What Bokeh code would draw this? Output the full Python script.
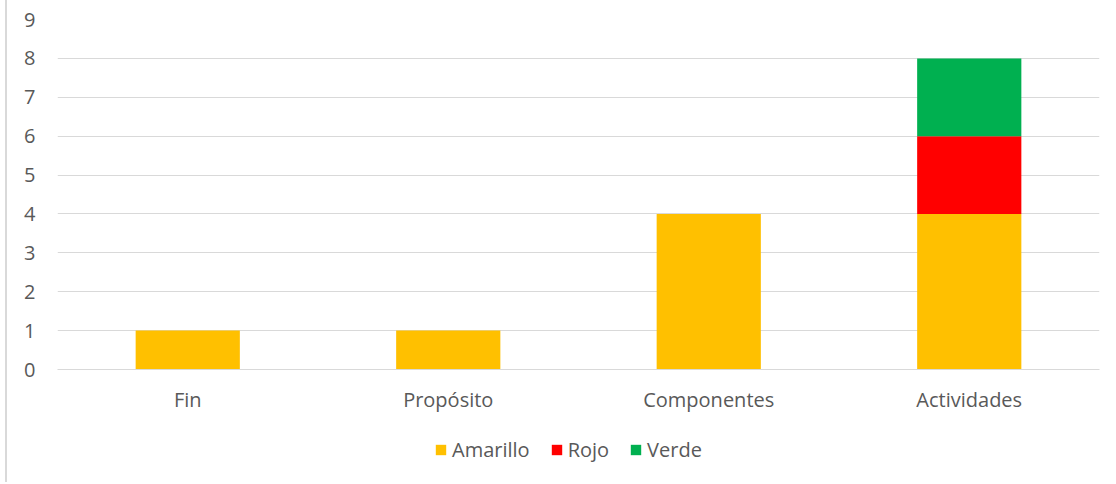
from bokeh.plotting import figure
from bokeh.layouts import column
from bokeh.models import FactorRange, Range1d, FixedTicker, Legend, LegendItem, ColumnDataSource
from bokeh.embed import file_html
from bokeh.resources import INLINE

categories = ["Fin", "Propósito", "Componentes", "Actividades"]
series = ["Amarillo", "Rojo", "Verde"]
amarillo = [1, 1, 4, 4]
rojo = [0, 0, 0, 2]
verde = [0, 0, 0, 2]
colors = ["#FFC000", "#FF0000", "#00B050"]
y_ticks = [0, 1, 2, 3, 4, 5, 6, 7, 8, 9]

FONT = "Open Sans"
TXT = "#595959"
FS = "20px"

source = ColumnDataSource(dict(cat=categories, Amarillo=amarillo, Rojo=rojo, Verde=verde))

p = figure(x_range=FactorRange(*categories), y_range=Range1d(0, 9),
           width=1109, height=420, output_backend="svg", toolbar_location=None,
           min_border_left=50, min_border_right=17, min_border_top=19, min_border_bottom=51)

renderers = p.vbar_stack(series, x="cat", width=0.4, source=source, color=colors, line_color=None)

p.outline_line_color = None
p.xgrid.grid_line_color = None
p.ygrid.grid_line_color = "#d9d9d9"
p.ygrid.grid_line_width = 1
p.yaxis.ticker = FixedTicker(ticks=y_ticks)
p.yaxis.axis_line_color = None
p.yaxis.major_tick_line_color = None
p.yaxis.minor_tick_line_color = None
p.yaxis.major_label_standoff = 16
p.yaxis.major_label_text_font = FONT
p.yaxis.major_label_text_font_size = FS
p.yaxis.major_label_text_color = TXT

p.xaxis.axis_line_color = "#d9d9d9"
p.xaxis.major_tick_line_color = None
p.xaxis.minor_tick_line_color = None
p.xaxis.major_label_standoff = 10
p.xaxis.major_label_text_font = FONT
p.xaxis.major_label_text_font_size = FS
p.xaxis.major_label_text_color = TXT
p.x_range.range_padding = 0
p.x_range.group_padding = 0

# legend strip below the chart (legend swatches use off-screen proxy bars)
lg = figure(width=1109, height=62, x_range=Range1d(0, 1), y_range=Range1d(0, 1),
            output_backend="svg", toolbar_location=None,
            min_border_left=0, min_border_right=0, min_border_top=0, min_border_bottom=0)
lg.axis.visible = False
lg.grid.visible = False
lg.outline_line_color = None
proxy = [lg.vbar(x=[-10], top=[-10], bottom=[-11], width=0.1, color=c, line_color=None) for c in colors]
legend = Legend(items=[LegendItem(label=s, renderers=[r]) for s, r in zip(series, proxy)],
                orientation="horizontal", location=(377, 19),
                glyph_width=13, glyph_height=13, label_standoff=5, spacing=20,
                label_text_font=FONT, label_text_font_size=FS, label_text_color=TXT,
                border_line_color=None, background_fill_alpha=0, padding=0, margin=0)
lg.add_layout(legend, "center")

layout = column(p, lg, spacing=0, styles={"border-left": "2px solid #d9d9d9", "margin-left": "5px"})

open("out.html", "w").write(file_html(layout, INLINE))
